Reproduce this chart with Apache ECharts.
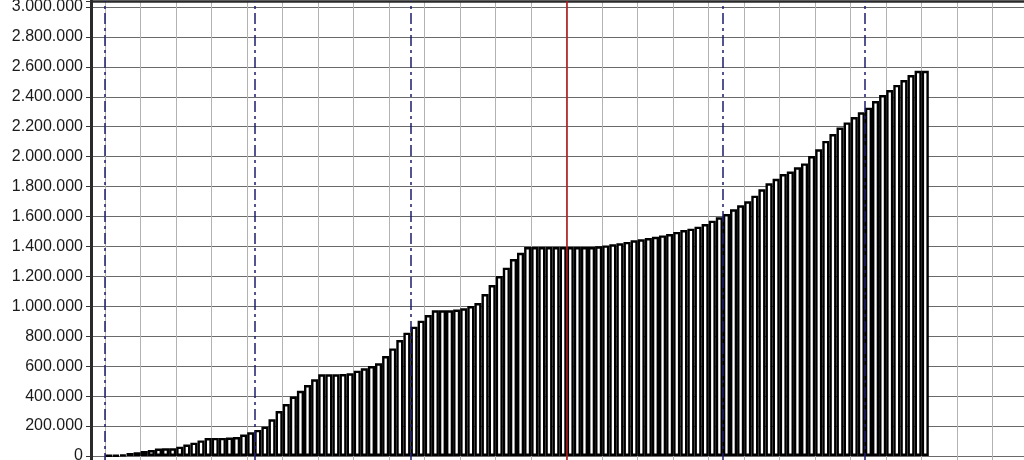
<!DOCTYPE html>
<html>
<head>
<meta charset="utf-8">
<script src="https://cdn.jsdelivr.net/npm/echarts@6/dist/echarts.min.js"></script>
<style>
html,body{margin:0;padding:0;background:#fff;overflow:hidden}
#c{width:1024px;height:460px}
</style>
</head>
<body>
<div id="c"></div>
<script>
// cumulative value per working day
const dailyValues = [
  3000, 4000, 8000, 20000, 25000, 33000, 40000, 50000, 51000, 51000,
  62000, 76000, 89000, 104000, 120000, 121000, 121000, 123000, 127000, 143000,
  158000, 174000, 196000, 245000, 300000, 347000, 397000, 436000, 474000, 512000,
  546000, 546000, 546000, 548000, 553000, 570000, 586000, 601000, 619000, 668000,
  719000, 775000, 824000, 864000, 904000, 942000, 973000, 973000, 973000, 978000,
  987000, 1002000, 1022000, 1082000, 1142000, 1202000, 1258000, 1316000, 1358000, 1396000,
  1396000, 1396000, 1396000, 1396000, 1396000, 1396000, 1396000, 1396000, 1396000, 1401000,
  1407000, 1414000, 1421000, 1430000, 1441000, 1448000, 1456000, 1465000, 1474000, 1483000,
  1497000, 1510000, 1519000, 1532000, 1550000, 1572000, 1595000, 1617000, 1648000, 1675000,
  1702000, 1739000, 1782000, 1822000, 1852000, 1884000, 1900000, 1929000, 1955000, 2004000,
  2049000, 2105000, 2151000, 2194000, 2229000, 2265000, 2296000, 2327000, 2372000, 2412000,
  2445000, 2479000, 2512000, 2545000, 2574000, 2574000
];
// day index at which each month starts (dash-dot lines)
const monthStartDays = [0, 21, 43, 87, 107];
// current day (red line)
const currentDay = 65;
// y tick labels
const yTickValues = [0, 200000, 400000, 600000, 800000, 1000000, 1200000, 1400000,
  1600000, 1800000, 2000000, 2200000, 2400000, 2600000, 2800000, 3000000];

const leadSlots = 2;
const trailSlots = 24;
const nSlots = leadSlots + dailyValues.length + trailSlots;
const slotPx = 7.1;

const categories = [];
for (let i = 0; i < nSlots; i++) categories.push(String(i - leadSlots + 1));
const barData = [].concat(new Array(leadSlots).fill(null), dailyValues, new Array(trailSlots).fill(null));

function fmt(v) {
  if (yTickValues.indexOf(v) < 0) return '';
  return String(v).replace(/\B(?=(\d{3})+(?!\d))/g, '.');
}

const markData = monthStartDays.map(d => ({ xAxis: d + leadSlots }));
markData.push({ xAxis: currentDay + leadSlots, lineStyle: { color: '#b01818', width: 1.6, type: 'solid' } });

const chart = echarts.init(document.getElementById('c'), null, { renderer: 'canvas' });
chart.setOption({
  animation: false,
  backgroundColor: '#ffffff',
  grid: { left: 91, top: 1, width: nSlots * slotPx, height: 484.93, containLabel: false, outerBoundsMode: 'none' },
  xAxis: [
    {
      type: 'category', data: categories, boundaryGap: true,
      axisLine: { show: false, onZero: false }, axisTick: { show: false }, axisLabel: { show: false },
      splitLine: {
        show: true,
        interval: function (i) { return i >= leadSlots && (i - leadSlots) % 5 === 0; },
        lineStyle: { color: '#b2b2b2', width: 1 }
      }
    },
    {
      type: 'value', min: 0, max: nSlots, position: 'top',
      axisLine: { show: true, onZero: false, lineStyle: { color: '#2a2a2a', width: 2.5 } },
      axisTick: { show: false }, axisLabel: { show: false }, splitLine: { show: false }
    }
  ],
  yAxis: {
    type: 'value', min: -200000, max: 3040000, interval: 200000,
    axisLine: { show: true, onZero: false, lineStyle: { color: '#2a2a2a', width: 3 } },
    axisTick: { show: true, length: 5, lineStyle: { color: '#333', width: 1 } },
    axisLabel: { margin: 8, fontSize: 16, color: '#1a1a1a', fontFamily: 'Liberation Sans, Arial, sans-serif', formatter: fmt },
    splitLine: { show: true, lineStyle: { color: '#6a6a6a', width: 1 } }
  },
  series: [
    {
      type: 'bar', data: barData, barCategoryGap: 0, barGap: 0, silent: true,
      itemStyle: { color: '#ffffff', borderColor: '#000000', borderWidth: 2.4 }
    },
    {
      type: 'line', xAxisIndex: 1, yAxisIndex: 0, data: [], silent: true, z: 5,
      markLine: {
        silent: true, symbol: ['none', 'none'], label: { show: false }, animation: false,
        lineStyle: { color: '#1c1c6e', width: 1.5, type: [11, 4, 3, 4] },
        data: markData
      }
    }
  ]
});
</script>
</body>
</html>
